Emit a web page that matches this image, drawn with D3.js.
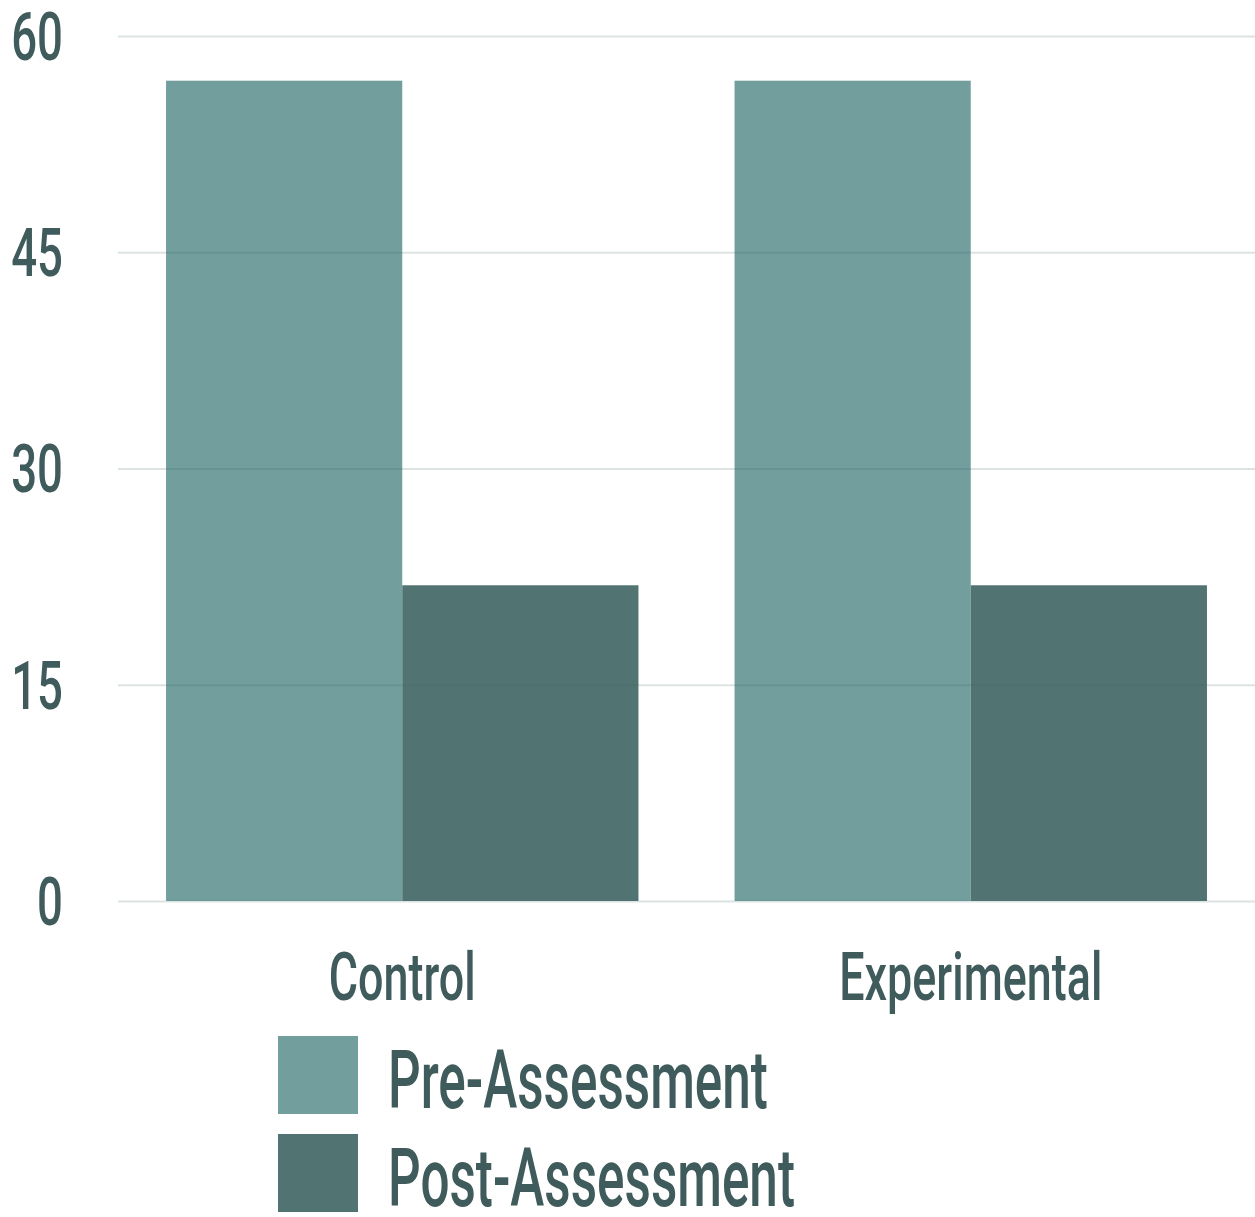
<!DOCTYPE html>
<html>
<head>
<meta charset="utf-8">
<script src="https://cdn.jsdelivr.net/npm/d3@7"></script>
<style>
  html, body { margin: 0; padding: 0; background: #fff; }
  svg { display: block; }
  text { font-family: Roboto, "Open Sans", sans-serif; font-weight: 500; fill: #3f5b5b; }
</style>
</head>
<body>
<svg id="chart" width="1255" height="1217"></svg>
<script>
// Assessment scores by group
const categories = ["Control", "Experimental"];
const seriesNames = ["Pre-Assessment", "Post-Assessment"];
const preValues = [56.9, 56.9];
const postValues = [21.9, 21.9];
const yTicks = [0, 15, 30, 45, 60];

const colors = { "Pre-Assessment": "#729e9d", "Post-Assessment": "#517472" };

// condense a text's glyphs horizontally by a factor
function condense(sel, factor) {
  sel.each(function () {
    const w = this.getComputedTextLength();
    d3.select(this)
      .attr("textLength", w * factor)
      .attr("lengthAdjust", "spacingAndGlyphs");
  });
}

const svg = d3.select("#chart");
const plot = { left: 118, right: 1255, top: 36, bottom: 901 };

const x0 = d3.scaleBand()
  .domain(categories)
  .range([plot.left, plot.right])
  .paddingInner(0.169)
  .paddingOuter(0.0845);
const x1 = d3.scaleBand()
  .domain(seriesNames)
  .range([0, x0.bandwidth()]);
const y = d3.scaleLinear().domain([0, 60]).range([plot.bottom, plot.top]);

const rows = categories.map((c, i) => ({
  category: c,
  values: [
    { series: "Pre-Assessment", value: preValues[i] },
    { series: "Post-Assessment", value: postValues[i] }
  ]
}));

// bars
svg.append("g").selectAll("g")
  .data(rows)
  .join("g")
  .attr("transform", d => `translate(${x0(d.category)},0)`)
  .selectAll("rect")
  .data(d => d.values)
  .join("rect")
  .attr("x", d => x1(d.series))
  .attr("y", d => y(d.value))
  .attr("width", x1.bandwidth())
  .attr("height", d => y(0) - y(d.value))
  .attr("fill", d => colors[d.series]);

// gridlines, drawn over the bars
const yAxis = d3.axisLeft(y)
  .tickValues(yTicks)
  .tickSize(-(plot.right - plot.left))
  .tickFormat("");
const gy = svg.append("g")
  .attr("transform", `translate(${plot.left},0)`)
  .call(yAxis);
gy.select(".domain").remove();
gy.selectAll(".tick line")
  .attr("stroke", "#3d6362")
  .attr("stroke-opacity", 0.18)
  .attr("stroke-width", 2.2);

// y tick labels
svg.append("g").selectAll("text")
  .data(yTicks)
  .join("text")
  .attr("x", 63)
  .attr("y", d => y(d))
  .attr("text-anchor", "end")
  .attr("dy", "0.36em")
  .attr("font-size", 66)
  .text(d => d)
  .call(condense, 0.69);

// category labels
svg.append("g").selectAll("text")
  .data(categories)
  .join("text")
  .attr("x", d => x0(d) + x0.bandwidth() / 2)
  .attr("y", 1000)
  .attr("text-anchor", "middle")
  .attr("font-size", 66)
  .text(d => d)
  .call(condense, 0.68);

// legend
const legend = svg.append("g").selectAll("g")
  .data(seriesNames)
  .join("g")
  .attr("transform", (d, i) => `translate(278,${1036 + i * 98})`);
legend.append("rect")
  .attr("width", 80)
  .attr("height", 78)
  .attr("fill", d => colors[d]);
legend.append("text")
  .attr("x", 110)
  .attr("y", 72)
  .attr("font-size", 82)
  .text(d => d)
  .call(condense, 0.625);
</script>
</body>
</html>
